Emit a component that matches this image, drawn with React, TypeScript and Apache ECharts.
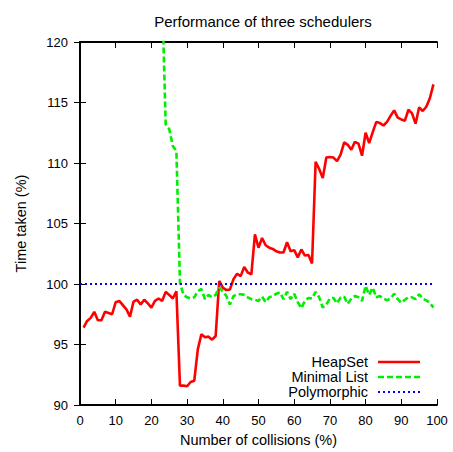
import React, { useEffect, useRef } from "react";
import * as echarts from "echarts";

// Percentage of collisions sampled for each run (HeapSet starts at 1, Minimal List at 23)
const heapSetStart = 1;
const heapSetTime = [
  96.4, 96.95, 97.2, 97.7, 97.0, 97.0, 97.7, 97.6, 97.5, 98.5,
  98.6, 98.25, 97.9, 97.3, 98.55, 98.7, 98.3, 98.7, 98.4, 98.05,
  98.6, 98.8, 98.6, 99.35, 99.1, 98.8, 99.4, 91.6, 91.6, 91.55,
  91.9, 92.0, 94.6, 95.85, 95.6, 95.65, 95.4, 95.7, 100.25, 99.7,
  99.5, 99.55, 100.4, 100.85, 100.65, 101.4, 100.95, 100.8, 104.1, 103.0,
  103.8, 103.2, 103.0, 102.9, 102.7, 102.6, 102.6, 103.45, 102.7, 102.8,
  102.2, 102.85, 102.35, 102.4, 101.7, 110.1, 109.5, 108.75, 110.45, 110.5,
  110.45, 110.15, 110.7, 111.7, 111.5, 111.1, 111.75, 111.6, 110.6, 112.5,
  111.65, 112.55, 113.4, 113.3, 113.1, 113.4, 113.9, 114.35, 113.75, 113.6,
  113.5, 114.4, 114.1, 113.25, 114.6, 114.3, 114.65, 115.35, 116.5,
];

const minimalListStart = 23;
const minimalListTime = [
  124.0, 113.2, 112.8, 111.4, 111.0, 100.1, 99.1, 98.9, 98.8, 98.9,
  99.4, 99.6, 98.75, 99.1, 98.9, 99.1, 99.7, 99.4, 99.0, 98.3,
  99.0, 99.15, 99.15, 99.1, 98.9, 98.75, 98.7, 98.6, 98.95, 98.5,
  98.9, 99.0, 99.2, 99.3, 98.75, 99.35, 98.75, 99.2, 98.5, 98.0,
  98.6, 98.85, 98.8, 99.35, 98.9, 98.05, 98.3, 98.8, 98.85, 98.4,
  98.9, 98.95, 98.35, 98.8, 99.0, 98.9, 98.6, 99.85, 99.1, 99.7,
  98.9, 99.0, 98.8, 98.65, 98.8, 99.2, 98.75, 98.45, 98.7, 98.9,
  98.9, 98.75, 99.15, 98.8, 98.65, 98.45, 98.05,
];

const polymorphicX = [0, 99];
const polymorphicTime = [100, 100];

const seriesNames = ["HeapSet", "Minimal List", "Polymorphic"];

const xTicks = { min: 0, max: 100, interval: 10 };
const yTicks = { min: 90, max: 120, interval: 5 };

const FONT = "Liberation Sans, Arial, Helvetica, sans-serif";

const toPairs = (start: number, values: number[]) =>
  values.map((v, i) => [start + i, v]);

// Line styles shared by the series and their key entries
const styles = [
  { color: "#ff0000", width: 2.6, type: "solid" as any },
  { color: "#00ee00", width: 2.6, type: [6, 3] as any },
  { color: "#0000ff", width: 2.2, type: [2, 3] as any },
];

export default function App() {
  const ref = useRef<HTMLDivElement>(null);

  useEffect(() => {
    if (!ref.current) return;
    const chart = echarts.init(ref.current, undefined, { renderer: "svg" });

    const axisLine = { show: true, lineStyle: { color: "#000", width: 1.8 } };
    const axisTick = { show: true, inside: true, length: 6, lineStyle: { color: "#000", width: 1 } };

    // Key in the lower right corner: right-aligned names with a line sample after each
    const keyTextRight = 368;
    const keyLineX1 = 378;
    const keyLineX2 = 420;
    const keyTop = 362;
    const keyStep = 15;
    const keyElements: any[] = [];
    seriesNames.forEach((name, i) => {
      const y = keyTop + i * keyStep;
      keyElements.push({
        type: "text",
        x: keyTextRight,
        y,
        style: {
          text: name,
          fontFamily: FONT,
          fontSize: 14.5,
          fill: "#000",
          textAlign: "right",
          textVerticalAlign: "middle",
        },
      });
      keyElements.push({
        type: "line",
        shape: { x1: keyLineX1, y1: y, x2: keyLineX2, y2: y },
        style: {
          stroke: styles[i].color,
          lineWidth: styles[i].width,
          lineDash: Array.isArray(styles[i].type) ? styles[i].type : null,
        },
      });
    });

    chart.setOption({
      animation: false,
      backgroundColor: "#fff",
      title: {
        text: "Performance of three schedulers",
        left: 258,
        top: 9,
        textAlign: "center",
        textStyle: { fontFamily: FONT, fontSize: 15, fontWeight: "normal", color: "#000" },
      },
      grid: { left: 80, top: 42, width: 357, height: 363, containLabel: false },
      xAxis: [
        {
          type: "value",
          ...xTicks,
          position: "bottom",
          name: "Number of collisions (%)",
          nameLocation: "middle",
          nameGap: 27,
          nameTextStyle: { fontFamily: FONT, fontSize: 14.5, color: "#000" },
          axisLine,
          axisTick,
          splitLine: { show: false },
          axisLabel: { fontFamily: FONT, fontSize: 13, color: "#000", margin: 9 },
        },
        {
          type: "value",
          ...xTicks,
          position: "top",
          axisLine,
          axisTick,
          splitLine: { show: false },
          axisLabel: { show: false },
        },
      ],
      yAxis: [
        {
          type: "value",
          ...yTicks,
          position: "left",
          name: "Time taken (%)",
          nameLocation: "middle",
          nameGap: 52,
          nameRotate: 90,
          nameTextStyle: { fontFamily: FONT, fontSize: 14.5, color: "#000" },
          axisLine,
          axisTick,
          splitLine: { show: false },
          axisLabel: { fontFamily: FONT, fontSize: 13, color: "#000", margin: 12 },
        },
        {
          type: "value",
          ...yTicks,
          position: "right",
          axisLine,
          axisTick,
          splitLine: { show: false },
          axisLabel: { show: false },
        },
      ],
      graphic: keyElements,
      series: seriesNames.map((name, i) => ({
        name,
        type: "line",
        data:
          i === 0
            ? toPairs(heapSetStart, heapSetTime)
            : i === 1
            ? toPairs(minimalListStart, minimalListTime)
            : polymorphicX.map((x, j) => [x, polymorphicTime[j]]),
        symbol: "none",
        lineStyle: { ...styles[i] },
        itemStyle: { color: styles[i].color },
        clip: true,
      })),
    });

    return () => chart.dispose();
  }, []);

  return (
    <div
      ref={ref}
      style={{ position: "absolute", left: 0, top: 0, width: 453, height: 452, background: "#fff" }}
    />
  );
}
